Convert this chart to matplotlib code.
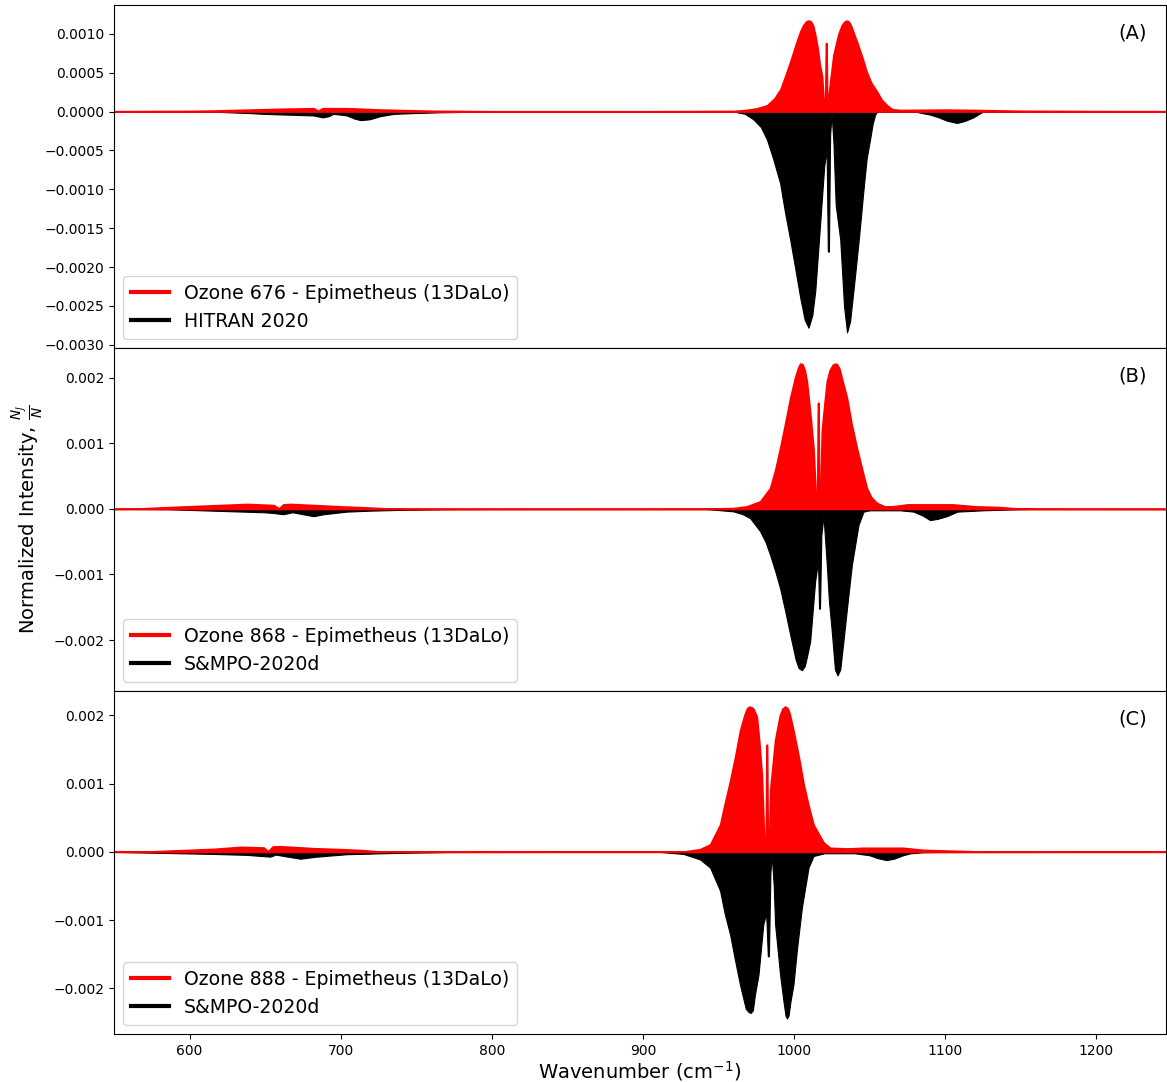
import matplotlib
matplotlib.use("Agg")
from matplotlib import pyplot as plt

# envelope of the stick spectra (wavenumber, intensity)
a_red_wn = [550, 600, 616, 640, 660, 682, 685, 688, 704, 726, 760, 800, 900, 960, 968, 975, 982, 987, 991,
            994, 997.4, 1001, 1004, 1006, 1008, 1009.5, 1011, 1012.5, 1014, 1015.5, 1017, 1018.5, 1019.8, 1020.5,
            1021.0, 1021.4, 1021.9, 1022.8, 1023.8, 1026, 1029.3, 1031.5, 1033, 1034.5, 1036, 1037.5, 1039,
            1041.5, 1045, 1048, 1051, 1055, 1058, 1061.5, 1065, 1070, 1100, 1120, 1150, 1200, 1246]
a_red_int = [0.000005, 0.000008, 0.000013, 0.000025, 0.000035, 0.000043, 0.00001, 0.000043, 0.000043, 0.000026,
             0.00001, 0.000004, 0.000004, 0.000008, 0.00002, 0.00004, 0.00008, 0.00017, 0.00029, 0.00045, 0.00064,
             0.00086, 0.00103, 0.00111, 0.00116, 0.00117, 0.00116, 0.00111, 0.00098, 0.00082, 0.0006, 0.00045,
             0.00005, 0.00003, 0.00088, 0.00088, 0.00003, 0.0002, 0.00038, 0.00073, 0.001, 0.00111, 0.00115,
             0.00117, 0.00116, 0.00111, 0.00103, 0.0009, 0.0007, 0.00051, 0.00037, 0.00025, 0.00015, 0.00008,
             0.00003, 0.00002, 0.000025, 0.00002, 0.00001, 0.000006, 0.000005]

a_blk_wn = [550, 620, 640, 649, 665, 682, 688, 692, 695, 700, 704, 709, 713, 719, 726, 735, 748, 765, 788, 800,
            960, 967.5, 973, 978, 982, 986, 990.7, 994, 997.4, 1001, 1004, 1007, 1009.5, 1012, 1014, 1017.2,
            1019.9, 1021.5, 1022.3, 1023, 1023.8, 1024.8, 1026, 1027.5, 1030.5, 1033, 1035, 1037, 1040.4, 1043,
            1045.9, 1048, 1050.3, 1052, 1053.6, 1055, 1080, 1081.2, 1090, 1095, 1101, 1107.7, 1113, 1118.7, 1124,
            1126, 1246]
a_blk_int = [0, -0.000005, -0.00002, -0.00003, -0.00004, -0.00005, -0.000075, -0.00006, -0.00003, -0.00004,
             -0.00005, -0.00009, -0.00011, -0.0001, -0.00006, -0.00003, -0.00002, -0.00001, -0.000003, 0, 0,
             -0.00003, -0.0001, -0.0002, -0.00036, -0.0006, -0.00092, -0.0013, -0.00165, -0.00205, -0.00239,
             -0.00268, -0.00278, -0.00262, -0.0023, -0.00144, -0.0007, -0.0005, -0.0018, -0.0018, -0.0003,
             -0.00002, -0.0004, -0.0012, -0.00165, -0.0025, -0.00284, -0.0027, -0.00209, -0.0016, -0.001, -0.0006,
             -0.00035, -0.00015, -0.00004, 0, 0, -0.000005, -0.00004, -0.00007, -0.000117, -0.000147, -0.00012,
             -0.000074, -0.00001, 0, 0]

b_red_wn = [550, 563, 594, 620, 638, 655.6, 659, 662, 666.7, 682, 700, 715, 730, 742, 800, 940, 960, 968.6,
            977.5, 984.1, 987.5, 990.7, 994, 997.4, 1000.5, 1002.5, 1004, 1005.5, 1007, 1008.4, 1010.5, 1012.8,
            1014.4, 1015.2, 1015.7, 1016.1, 1016.6, 1017.2, 1018.3, 1020, 1021.6, 1023.5, 1025.5, 1027, 1028.3,
            1030, 1031.5, 1034.9, 1038, 1041.5, 1045, 1048.1, 1051, 1054.8, 1060, 1065, 1075, 1090, 1105, 1120,
            1135, 1147, 1160, 1246]
b_red_int = [0.000003, 0.000005, 0.000036, 0.00006, 0.000077, 0.00006, 0.00001, 0.00007, 0.000077, 0.00006,
             0.00004, 0.000026, 0.00001, 0.000003, 0.000002, 0.000003, 0.000015, 0.00004, 0.000117, 0.00032,
             0.0006, 0.00093, 0.0013, 0.0017, 0.002, 0.00215, 0.00222, 0.00221, 0.00212, 0.00195, 0.0015, 0.00093,
             0.00017, 0.00003, 0.00162, 0.00162, 0.00003, 0.0001, 0.00119, 0.0016, 0.00195, 0.00212, 0.0022,
             0.00222, 0.00221, 0.00214, 0.002, 0.0017, 0.0013, 0.00093, 0.0006, 0.00032, 0.00018, 0.00009,
             0.00004, 0.00004, 0.00007, 0.00007, 0.00007, 0.00004, 0.00003, 0.00001, 0.000003, 0.000002]

b_blk_wn = [550, 585, 616, 649, 655, 662, 668, 675, 682, 688.7, 704, 720, 737, 770, 800, 940, 944, 959.8, 966,
            970.9, 977.5, 981, 984.1, 987.5, 990.7, 994, 997.4, 1001, 1003, 1005.1, 1007, 1008.5, 1010.6, 1013.9,
            1015.8, 1016.5, 1017.1, 1018, 1019.4, 1021.6, 1023, 1024.9, 1027, 1028.7, 1030.5, 1032.6, 1035.5,
            1038.2, 1042.6, 1045.9, 1050, 1070, 1079, 1085, 1090, 1095, 1101, 1108, 1125, 1147, 1160, 1246]
b_blk_int = [0, -0.000003, -0.000026, -0.00005, -0.00006, -0.00008, -0.00005, -0.00008, -0.00011, -0.00008,
             -0.00004, -0.000025, -0.000015, -0.000003, 0, 0, -0.000005, -0.000036, -0.00008, -0.00014, -0.00034,
             -0.0005, -0.0007, -0.00095, -0.00121, -0.00155, -0.00192, -0.0023, -0.00243, -0.00246, -0.0024,
             -0.00225, -0.00202, -0.0011, -0.0008, -0.00152, -0.00152, -0.0004, -0.0001, -0.00085, -0.0014,
             -0.00187, -0.00245, -0.00254, -0.00245, -0.00202, -0.0014, -0.00085, -0.00024, -0.00004, -0.00002,
             -0.00002, -0.00004, -0.0001, -0.00017, -0.00015, -0.00011, -0.00004, -0.00002, -0.000005, 0, 0]

c_red_wn = [550, 571.5, 600, 616, 633.6, 649, 652, 655, 660, 682, 700, 715, 726, 800, 926.7, 937.7, 944.4, 951,
            954, 957.6, 961, 964.2, 967, 968.7, 970.2, 971.7, 973, 975.3, 977, 978.6, 980.3, 981.2, 981.7, 982.1,
            982.6, 983.5, 984.1, 987.4, 990.5, 992.3, 994, 995.5, 997, 999.5, 1003, 1006.2, 1009.5, 1012.8,
            1019.4, 1023.8, 1035, 1045.7, 1060, 1072, 1085, 1100, 1125, 1246]
c_red_int = [0.000003, 0.000005, 0.00003, 0.000044, 0.000074, 0.000064, 0.00001, 0.00008, 0.000083, 0.000054,
             0.00004, 0.000025, 0.000005, 0.000002, 0.000005, 0.00004, 0.00011, 0.0004, 0.0007, 0.00104, 0.0014,
             0.00178, 0.002, 0.0021, 0.00213, 0.00212, 0.0021, 0.00198, 0.0016, 0.00114, 0.00011, 0.00003,
             0.00157, 0.00157, 0.00003, 0.0002, 0.0009, 0.00164, 0.002, 0.0021, 0.00213, 0.00211, 0.00203,
             0.00178, 0.0014, 0.001, 0.00068, 0.0004, 0.00014, 0.00006, 0.00005, 0.00006, 0.00006, 0.00006,
             0.00003, 0.00002, 0.000005, 0.000003]

c_blk_wn = [550, 594, 616, 638, 653.3, 657, 665, 673.3, 684, 704, 737, 770, 800, 911, 926.7, 937.7, 944.4, 951,
            954, 957.6, 961, 964.2, 968, 970, 971.3, 972.7, 974, 976.4, 979.6, 981.5, 982.6, 983.3, 984.3, 985.2,
            986.5, 987.4, 990.7, 993, 994.3, 995.2, 996.3, 997.5, 999.5, 1002, 1005.1, 1009.5, 1012.8, 1020,
            1040, 1050, 1055, 1061, 1066, 1072, 1077, 1086, 1100, 1246]
c_blk_int = [0, -0.00002, -0.00003, -0.000044, -0.00007, -0.00004, -0.00007, -0.0001, -0.00007, -0.000034,
             -0.000015, -0.000003, 0, 0, -0.00003, -0.00011, -0.00023, -0.00057, -0.0009, -0.00121, -0.0016,
             -0.00195, -0.0023, -0.00235, -0.00236, -0.00232, -0.0021, -0.0018, -0.00106, -0.0009, -0.00153,
             -0.00153, -0.0003, -0.00005, -0.0005, -0.00106, -0.0018, -0.0022, -0.0024, -0.00244, -0.0024, -0.0022,
             -0.00195, -0.0014, -0.00082, -0.00023, -0.00006, -0.00002, -0.00002, -0.00005, -0.00009, -0.00012,
             -0.0001, -0.00005, -0.00002, -0.000005, -0.000003, 0]

red_labels = ['Ozone 676 - Epimetheus (13DaLo)', 'Ozone 868 - Epimetheus (13DaLo)',
              'Ozone 888 - Epimetheus (13DaLo)']
black_labels = ['HITRAN 2020', 'S&MPO-2020d', 'S&MPO-2020d']
panel_tags = ['(A)', '(B)', '(C)']

paneles = [(a_red_wn, a_red_int, a_blk_wn, a_blk_int),
           (b_red_wn, b_red_int, b_blk_wn, b_blk_int),
           (c_red_wn, c_red_int, c_blk_wn, c_blk_int)]

fig, axs = plt.subplots(3, 1, sharex=True, figsize=(11.67, 10.82), dpi=100)
fig.subplots_adjust(left=0.0977, right=0.9991, top=0.9954, bottom=0.0444, hspace=0)

for ax, (rw, ri, bw, bi), lr, lb, tag in zip(axs, paneles, red_labels, black_labels, panel_tags):
    ax.fill_between(bw, 0, bi, color='k', lw=0.8)
    ax.fill_between(rw, 0, ri, color='r', lw=1.2)
    # proxy lines for the legend
    ax.plot([], [], 'r-', lw=3, label=lr)
    ax.plot([], [], 'k-', lw=3, label=lb)
    ax.legend(loc='lower left', fontsize=13.6)
    ax.text(0.968, 0.918, tag, transform=ax.transAxes, fontsize=14, ha='center', va='center')
    ax.set_xlim(550, 1246)

axs[2].set_xlabel('Wavenumber (cm$^{-1}$)', fontsize=14, labelpad=1)
fig.text(0.024, 0.52, r'Normalized Intensity, $\frac{N_J}{N}$', rotation=90, fontsize=14,
         ha='center', va='center')

plt.savefig('out.png', dpi=100)
